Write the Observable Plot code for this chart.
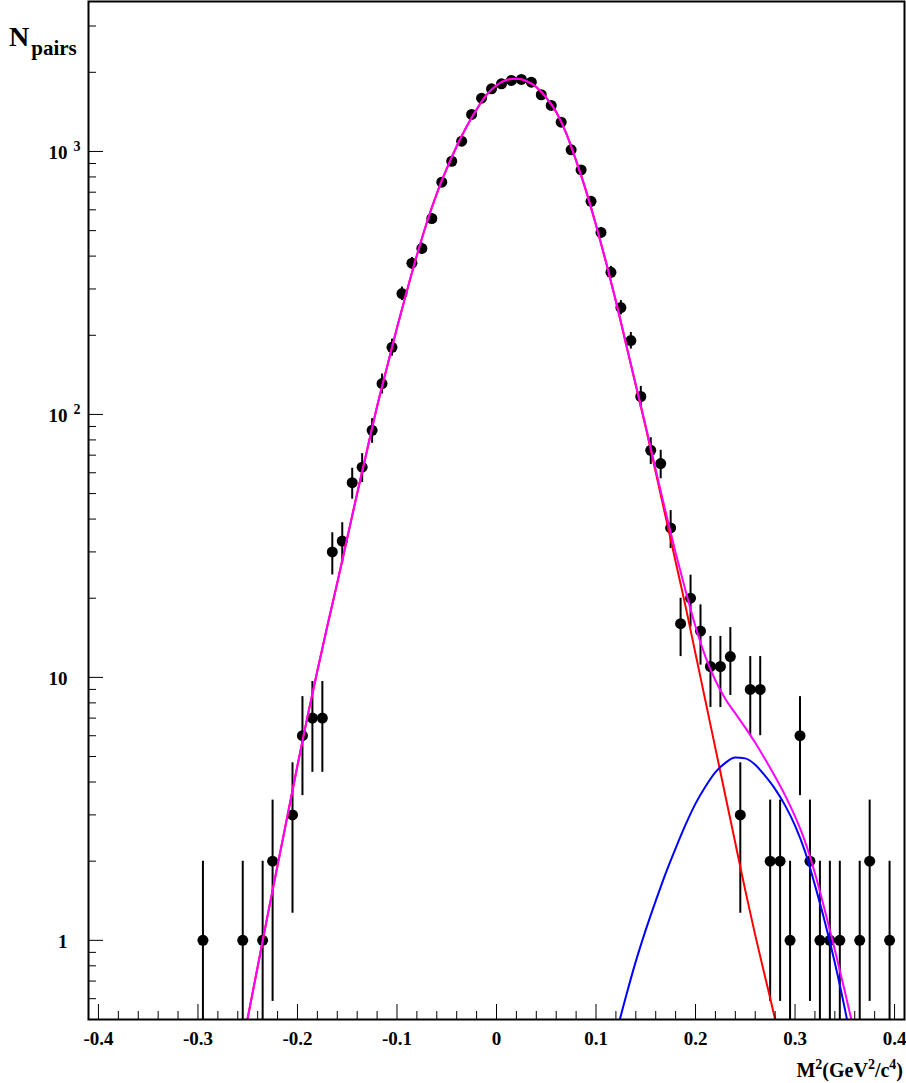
<!DOCTYPE html>
<html><head><meta charset="utf-8">
<script src="https://cdn.jsdelivr.net/npm/d3@7"></script>
<script src="https://cdn.jsdelivr.net/npm/@observablehq/plot@0.6"></script>
<style>html,body{margin:0;padding:0;background:#fff;overflow:hidden}</style>
</head><body><div id="chart"></div>
<script>
// Histogram points (bin centres, counts)
const ptX = [-0.295,-0.255,-0.235,-0.225,-0.205,-0.195,-0.185,-0.175,-0.165,-0.155,
  -0.145,-0.135,-0.125,-0.115,-0.105,-0.095,-0.085,-0.075,-0.065,-0.055,
  -0.045,-0.035,-0.025,-0.015,-0.005,0.005,0.015,0.025,0.035,0.045,
  0.055,0.065,0.075,0.085,0.095,0.105,0.115,0.125,0.135,0.145,
  0.155,0.165,0.175,0.185,0.195,0.205,0.215,0.225,0.235,0.245,
  0.255,0.265,0.275,0.285,0.295,0.305,0.315,0.325,0.335,0.345,
  0.365,0.375,0.395];
const ptN = [1,1,1,2,3,6,7,7,30,33,
  55,63,87,131,180,288,376,428,556,764,
  918,1094,1383,1595,1730,1808,1862,1879,1835,1643,
  1496,1292,1015,851,646,492,347,255,191,117,
  73,65,37,16,20,15,11,11,12,3,
  9,9,2,2,1,6,2,1,1,1,
  1,2,1];

// Fit curves
const fitX = [-0.26,-0.25,-0.24,-0.23,-0.22,-0.21,-0.20,-0.19,-0.18,-0.17,
  -0.16,-0.15,-0.14,-0.13,-0.12,-0.11,-0.10,-0.09,-0.08,-0.07,
  -0.06,-0.05,-0.04,-0.03,-0.02,-0.01,0.00,0.01,0.02,0.03,
  0.04,0.05,0.06,0.07,0.08,0.09,0.10,0.11,0.12,0.13,
  0.14,0.15,0.16,0.17,0.18,0.19,0.20,0.21,0.22,0.23,
  0.24,0.25,0.26,0.27,0.28,0.29,0.30,0.31,0.32,0.33,
  0.34,0.35,0.36];
const redFit = [0.324,0.507,0.794,1.245,1.928,2.985,4.624,7.079,10.59,15.67,
  22.91,33.88,50.12,73.28,107.2,151.4,213.8,295.1,402.7,537.0,
  691.8,861.0,1047,1245,1445,1641,1786,1871,1892,1854,
  1758,1603,1413,1175,922.6,707.9,524.8,380.2,269.2,186.2,
  128.8,89.13,60.26,40.74,27.54,18.62,12.30,8.128,5.370,3.548,
  2.344,1.549,1.047,0.724,0.501,0.339,0.229,0.155,0.102,0.068,
  0.044,0.028,0.018];
const magentaFit = [0.324,0.507,0.794,1.245,1.928,2.985,4.624,7.079,10.59,15.67,
  22.91,33.88,50.12,73.28,107.2,151.4,213.8,295.1,402.7,537.0,
  691.8,861.0,1047,1245,1445,1641,1786,1871,1892,1854,
  1758,1603,1413,1175,922.6,707.9,524.8,380.5,269.6,186.8,
  129.6,90.23,61.67,42.54,29.78,21.37,15.61,11.97,9.735,8.280,
  7.299,6.440,5.640,4.880,4.190,3.560,2.960,2.380,1.800,1.300,
  0.920,0.640,0.440];
const blueX = [0.11,0.12,0.13,0.14,0.15,0.16,0.17,0.18,0.19,0.20,
  0.21,0.22,0.23,0.24,0.25,0.26,0.27,0.28,0.29,0.30,
  0.31,0.32,0.33,0.34,0.35,0.36];
const blueFit = [0.30,0.437,0.610,0.832,1.096,1.413,1.799,2.239,2.754,3.311,
  3.846,4.365,4.732,4.955,4.920,4.656,4.217,3.760,3.260,2.730,
  2.180,1.622,1.175,0.822,0.550,0.355];

// Axis ticks and labels
const xMajorTicks = [-0.4,-0.3,-0.2,-0.1,0,0.1,0.2,0.3,0.4];
const xTickLabels = ["-0.4","-0.3","-0.2","-0.1","0","0.1","0.2","0.3","0.4"];
const xMinorTicks = [-0.38,-0.36,-0.34,-0.32,-0.28,-0.26,-0.24,-0.22,-0.18,-0.16,-0.14,-0.12,
  -0.08,-0.06,-0.04,-0.02,0.02,0.04,0.06,0.08,0.12,0.14,0.16,0.18,0.22,0.24,0.26,0.28,
  0.32,0.34,0.36,0.38];
const yMajorTicks = [1,10,100,1000];
const yPlainLabels = [1,10];
const yPowerLabels = [100,1000];
const yPowerExp = ["2","3"];
const yMinorTicks = [0.6,0.7,0.8,0.9,2,3,4,5,6,7,8,9,20,30,40,50,60,70,80,90,
  200,300,400,500,600,700,800,900,2000,3000];

const points = ptX.map((x,i)=>({x, n: ptN[i],
  lo: Math.max(ptN[i]-Math.sqrt(ptN[i]), 0.2), hi: ptN[i]+Math.sqrt(ptN[i])}));
const red = fitX.map((x,i)=>({x, y: redFit[i]}));
const magenta = fitX.map((x,i)=>({x, y: magentaFit[i]}));
const blue = blueX.map((x,i)=>({x, y: blueFit[i]}));

const W = 906, H = 1083, mL = 88, mR = 2, mT = 1, mB = 64;
const plotW = W - mL - mR, plotH = H - mT - mB;
const font = "'Liberation Serif','Times New Roman',serif";

const svg = Plot.plot({
  width: W, height: H,
  marginLeft: mL, marginRight: mR, marginTop: mT, marginBottom: mB,
  style: {fontFamily: font, fontWeight: "bold", background: "white", color: "black", overflow: "visible"},
  x: {domain: [-0.41, 0.41], axis: null},
  y: {type: "log", domain: [0.5, 3718], axis: null},
  marks: [
    Plot.ruleX(points, {x: "x", y1: "lo", y2: "hi", stroke: "black", strokeWidth: 2, clip: true}),
    Plot.dot(points, {x: "x", y: "n", r: 5.5, fill: "black", stroke: "none", clip: true}),
    Plot.line(red, {x: "x", y: "y", stroke: "#ff0000", strokeWidth: 2, curve: "monotone-x", clip: true}),
    Plot.line(blue, {x: "x", y: "y", stroke: "#0000ff", strokeWidth: 2, curve: "monotone-x", clip: true}),
    Plot.line(magenta, {x: "x", y: "y", stroke: "#ff00ff", strokeWidth: 2, curve: "monotone-x", clip: true}),
    Plot.tickX(xMajorTicks, {x: d => d, insetTop: plotH - 15, stroke: "black", strokeWidth: 1}),
    Plot.tickX(xMinorTicks, {x: d => d, insetTop: plotH - 8, stroke: "black", strokeWidth: 1}),
    Plot.tickY(yMajorTicks, {y: d => d, insetRight: plotW - 15, stroke: "black", strokeWidth: 1}),
    Plot.tickY(yMinorTicks, {y: d => d, insetRight: plotW - 8, stroke: "black", strokeWidth: 1}),
    Plot.frame({stroke: "black", strokeWidth: 2}),
    Plot.text(xMajorTicks, {x: d => d, text: (d, i) => xTickLabels[i], frameAnchor: "bottom",
      lineAnchor: "bottom", dy: 25, fontSize: 19, fontWeight: "bold", fill: "black"}),
    Plot.text(yPlainLabels, {y: d => d, text: d => String(d), frameAnchor: "left", textAnchor: "end",
      lineAnchor: "bottom", dx: -21, dy: 8, fontSize: 19, fontWeight: "bold", fill: "black"}),
    Plot.text(yPowerLabels, {y: d => d, text: () => "10", frameAnchor: "left", textAnchor: "end",
      lineAnchor: "bottom", dx: -21, dy: 8, fontSize: 19, fontWeight: "bold", fill: "black"}),
    Plot.text(yPowerLabels, {y: d => d, text: (d, i) => yPowerExp[i], frameAnchor: "left", textAnchor: "start",
      lineAnchor: "bottom", dx: -15, dy: 0, fontSize: 14, fontWeight: "bold", fill: "black"})
  ]
});

const s = d3.select(svg);
// y-axis title N_pairs
const yt = s.append("text").attr("x", 9).attr("y", 46).attr("text-anchor", "start")
  .style("font-family", font).style("font-weight", "bold").attr("fill", "black");
yt.append("tspan").style("font-size", "28px").text("N");
yt.append("tspan").style("font-size", "21px").attr("dx", 2).attr("dy", 9).text("pairs");
// x-axis title M^2(GeV^2/c^4)
const xt = s.append("text").attr("x", 903).attr("y", 1077).attr("text-anchor", "end")
  .style("font-family", font).style("font-weight", "bold").style("font-size", "20px").attr("fill", "black");
xt.append("tspan").text("M");
xt.append("tspan").attr("dy", -8).style("font-size", "14px").text("2");
xt.append("tspan").attr("dy", 8).text("(GeV");
xt.append("tspan").attr("dy", -8).style("font-size", "14px").text("2");
xt.append("tspan").attr("dy", 8).text("/c");
xt.append("tspan").attr("dy", -8).style("font-size", "14px").text("4");
xt.append("tspan").attr("dy", 8).text(")");

document.getElementById("chart").appendChild(svg);
</script>
</body></html>
